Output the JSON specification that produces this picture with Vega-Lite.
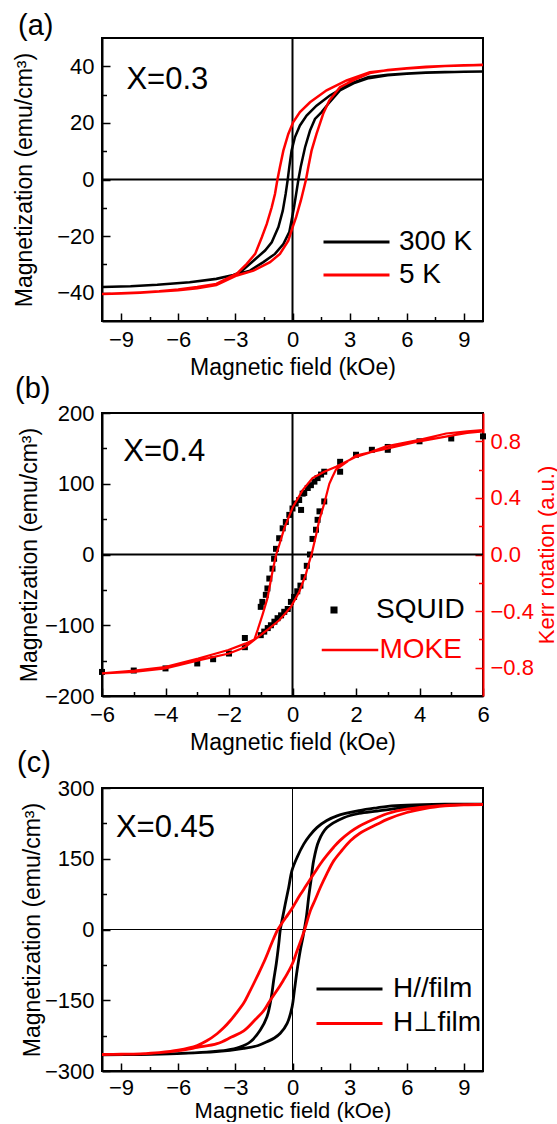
{
  "$schema": "https://vega.github.io/schema/vega-lite/v6.json",
  "background": "white",
  "padding": {"left": 12, "top": 11, "right": 0, "bottom": 0},
  "spacing": 92,
  "bounds": "flush",
  "datasets": {
    "a": [
      {"T":"300 K","H":10,"M":38.2},{"T":"300 K","H":9,"M":38.1},{"T":"300 K","H":8,"M":38.0},{"T":"300 K","H":7,"M":37.8},{"T":"300 K","H":6,"M":37.5},{"T":"300 K","H":5,"M":37.0},{"T":"300 K","H":4,"M":36.2},{"T":"300 K","H":3,"M":33.8},{"T":"300 K","H":2.5,"M":31.8},{"T":"300 K","H":1.96,"M":29.7},{"T":"300 K","H":1.26,"M":26.1},{"T":"300 K","H":0.74,"M":22.6},{"T":"300 K","H":0.39,"M":19.1},{"T":"300 K","H":0.13,"M":15.0},{"T":"300 K","H":-0.05,"M":10.2},{"T":"300 K","H":-0.17,"M":4.4},{"T":"300 K","H":-0.25,"M":0},{"T":"300 K","H":-0.36,"M":-5.1},{"T":"300 K","H":-0.51,"M":-11.0},{"T":"300 K","H":-0.74,"M":-16.8},{"T":"300 K","H":-1.09,"M":-22.2},{"T":"300 K","H":-1.44,"M":-25.1},{"T":"300 K","H":-2.05,"M":-28.7},{"T":"300 K","H":-2.75,"M":-32.8},{"T":"300 K","H":-3.1,"M":-33.7},{"T":"300 K","H":-4,"M":-35.1},{"T":"300 K","H":-5.4,"M":-36.3},{"T":"300 K","H":-7.1,"M":-37.2},{"T":"300 K","H":-8.5,"M":-37.7},{"T":"300 K","H":-10,"M":-38.0},
      {"T":"300 K","H":-8.5,"M":-37.7},{"T":"300 K","H":-7.1,"M":-37.2},{"T":"300 K","H":-5.4,"M":-36.3},{"T":"300 K","H":-4,"M":-35.2},{"T":"300 K","H":-3,"M":-33.6},{"T":"300 K","H":-2.23,"M":-32.2},{"T":"300 K","H":-1.53,"M":-29.2},{"T":"300 K","H":-0.92,"M":-26.3},{"T":"300 K","H":-0.48,"M":-22.8},{"T":"300 K","H":-0.17,"M":-18.6},{"T":"300 K","H":-0.05,"M":-14.5},{"T":"300 K","H":0.08,"M":-9.8},{"T":"300 K","H":0.22,"M":-3.9},{"T":"300 K","H":0.31,"M":0},{"T":"300 K","H":0.43,"M":4.4},{"T":"300 K","H":0.66,"M":11.4},{"T":"300 K","H":0.92,"M":17.3},{"T":"300 K","H":1.18,"M":21.4},{"T":"300 K","H":1.53,"M":23.8},{"T":"300 K","H":1.87,"M":26.7},{"T":"300 K","H":2.49,"M":31.5},{"T":"300 K","H":3.2,"M":34.0},{"T":"300 K","H":4,"M":35.8},{"T":"300 K","H":5,"M":36.8},{"T":"300 K","H":6,"M":37.4},{"T":"300 K","H":7,"M":37.7},{"T":"300 K","H":8,"M":37.9},{"T":"300 K","H":9,"M":38.1},{"T":"300 K","H":10,"M":38.2},
      {"T":"5 K","H":10,"M":40.5},{"T":"5 K","H":9,"M":40.4},{"T":"5 K","H":8,"M":40.1},{"T":"5 K","H":7,"M":39.7},{"T":"5 K","H":6,"M":39.2},{"T":"5 K","H":5,"M":38.6},{"T":"5 K","H":4.06,"M":37.9},{"T":"5 K","H":2.84,"M":35.0},{"T":"5 K","H":1.79,"M":31.5},{"T":"5 K","H":0.92,"M":27.3},{"T":"5 K","H":0.39,"M":23.8},{"T":"5 K","H":0.04,"M":20.3},{"T":"5 K","H":-0.22,"M":16.1},{"T":"5 K","H":-0.48,"M":10.2},{"T":"5 K","H":-0.66,"M":4.4},{"T":"5 K","H":-0.79,"M":0},{"T":"5 K","H":-0.92,"M":-5.1},{"T":"5 K","H":-1.09,"M":-9.8},{"T":"5 K","H":-1.35,"M":-15.7},{"T":"5 K","H":-1.61,"M":-20.4},{"T":"5 K","H":-1.96,"M":-26.3},{"T":"5 K","H":-2.4,"M":-29.8},{"T":"5 K","H":-2.92,"M":-33.3},{"T":"5 K","H":-4,"M":-36.9},{"T":"5 K","H":-5,"M":-38.0},{"T":"5 K","H":-6,"M":-38.9},{"T":"5 K","H":-7,"M":-39.5},{"T":"5 K","H":-8,"M":-39.9},{"T":"5 K","H":-9,"M":-40.2},{"T":"5 K","H":-10,"M":-40.5},
      {"T":"5 K","H":-9,"M":-40.3},{"T":"5 K","H":-8,"M":-40.0},{"T":"5 K","H":-7,"M":-39.6},{"T":"5 K","H":-6,"M":-39.1},{"T":"5 K","H":-5,"M":-38.4},{"T":"5 K","H":-4,"M":-37.3},{"T":"5 K","H":-2.92,"M":-33.9},{"T":"5 K","H":-2.05,"M":-32.2},{"T":"5 K","H":-1.18,"M":-29.2},{"T":"5 K","H":-0.66,"M":-26.3},{"T":"5 K","H":-0.22,"M":-21.6},{"T":"5 K","H":-0.05,"M":-18.0},{"T":"5 K","H":0.19,"M":-13.3},{"T":"5 K","H":0.44,"M":-7.4},{"T":"5 K","H":0.71,"M":0},{"T":"5 K","H":0.83,"M":4.4},{"T":"5 K","H":1.0,"M":10.2},{"T":"5 K","H":1.26,"M":16.1},{"T":"5 K","H":1.61,"M":23.2},{"T":"5 K","H":1.93,"M":27.9},{"T":"5 K","H":2.49,"M":32.6},{"T":"5 K","H":3.36,"M":35.6},{"T":"5 K","H":4.06,"M":37.6},{"T":"5 K","H":5,"M":38.7},{"T":"5 K","H":6,"M":39.3},{"T":"5 K","H":7,"M":39.8},{"T":"5 K","H":8,"M":40.1},{"T":"5 K","H":9,"M":40.3},{"T":"5 K","H":10,"M":40.5}
    ],
    "bs": [
      {"H":-6,"M":-166},{"H":-5,"M":-164},{"H":-4,"M":-161},{"H":-3,"M":-154},{"H":-2.5,"M":-148},{"H":-2,"M":-140},{"H":-1.5,"M":-131},{"H":-1.5,"M":-118},{"H":-1.0,"M":-74},{"H":-1.0,"M":-114},{"H":-0.95,"M":-67},{"H":-0.89,"M":-109},{"H":-0.84,"M":-57},{"H":-0.79,"M":-48},{"H":-0.78,"M":-104},{"H":-0.73,"M":-34},{"H":-0.68,"M":-100},{"H":-0.63,"M":-20},{"H":-0.58,"M":-6},{"H":-0.57,"M":-95},{"H":-0.52,"M":8},{"H":-0.47,"M":-90},{"H":-0.42,"M":23},{"H":-0.36,"M":-86},{"H":-0.31,"M":37},{"H":-0.26,"M":-81},{"H":-0.21,"M":46},{"H":-0.15,"M":-77},{"H":-0.1,"M":56},{"H":-0.05,"M":-67},{"H":0.0,"M":65},{"H":0.05,"M":-60},{"H":0.1,"M":72},{"H":0.15,"M":-52},{"H":0.21,"M":77},{"H":0.25,"M":-44},{"H":0.27,"M":63},{"H":0.32,"M":86},{"H":0.35,"M":-32},{"H":0.37,"M":87},{"H":0.45,"M":-16},{"H":0.48,"M":94},{"H":0.55,"M":0},{"H":0.58,"M":98},{"H":0.63,"M":22},{"H":0.69,"M":103},{"H":0.74,"M":35},{"H":0.79,"M":49},{"H":0.79,"M":108},{"H":0.85,"M":61},{"H":0.9,"M":113},{"H":1.0,"M":75},{"H":1.0,"M":117},{"H":1.5,"M":131},{"H":1.5,"M":117},{"H":2,"M":141},{"H":2.5,"M":148},{"H":3,"M":148},{"H":3,"M":152},{"H":4,"M":160},{"H":5,"M":164},{"H":6,"M":167}
    ],
    "bm": [
      {"H":6,"K":0.88},{"H":5.5,"K":0.87},{"H":4.84,"K":0.855},{"H":4,"K":0.81},{"H":2.95,"K":0.765},{"H":2.42,"K":0.72},{"H":2,"K":0.69},{"H":1.37,"K":0.62},{"H":1.0,"K":0.585},{"H":0.63,"K":0.54},{"H":0.32,"K":0.455},{"H":0,"K":0.33},{"H":-0.26,"K":0.185},{"H":-0.42,"K":0.065},{"H":-0.52,"K":-0.005},{"H":-0.63,"K":-0.12},{"H":-0.79,"K":-0.31},{"H":-0.95,"K":-0.43},{"H":-1.1,"K":-0.535},{"H":-1.2,"K":-0.6},{"H":-1.49,"K":-0.63},{"H":-2.02,"K":-0.675},{"H":-2.97,"K":-0.735},{"H":-4.02,"K":-0.795},{"H":-4.97,"K":-0.82},{"H":-6,"K":-0.84},
      {"H":-5,"K":-0.83},{"H":-4,"K":-0.805},{"H":-3,"K":-0.75},{"H":-2,"K":-0.7},{"H":-1.5,"K":-0.655},{"H":-1.1,"K":-0.585},{"H":-0.75,"K":-0.525},{"H":-0.42,"K":-0.465},{"H":-0.2,"K":-0.41},{"H":-0.05,"K":-0.37},{"H":0.21,"K":-0.265},{"H":0.42,"K":-0.14},{"H":0.53,"K":-0.05},{"H":0.6,"K":0},{"H":0.74,"K":0.135},{"H":0.84,"K":0.24},{"H":1.0,"K":0.36},{"H":1.16,"K":0.5},{"H":1.26,"K":0.55},{"H":1.37,"K":0.6},{"H":2,"K":0.7},{"H":3,"K":0.75},{"H":4,"K":0.8},{"H":5,"K":0.84},{"H":5.5,"K":0.86},{"H":6,"K":0.87}
    ],
    "c": [
      {"T":"H//film","H":10,"M":266},{"T":"H//film","H":8,"M":265.5},{"T":"H//film","H":6,"M":263.5},{"T":"H//film","H":5,"M":261},{"T":"H//film","H":4.44,"M":258},{"T":"H//film","H":3.5,"M":252},{"T":"H//film","H":2.34,"M":241},{"T":"H//film","H":1.8,"M":231},{"T":"H//film","H":1.28,"M":216},{"T":"H//film","H":0.9,"M":199},{"T":"H//film","H":0.59,"M":181},{"T":"H//film","H":0.24,"M":153},{"T":"H//film","H":-0.03,"M":125},{"T":"H//film","H":-0.2,"M":89},{"T":"H//film","H":-0.38,"M":54},{"T":"H//film","H":-0.55,"M":19},{"T":"H//film","H":-0.64,"M":0},{"T":"H//film","H":-0.72,"M":-30},{"T":"H//film","H":-0.85,"M":-72},{"T":"H//film","H":-0.99,"M":-108},{"T":"H//film","H":-1.11,"M":-143},{"T":"H//film","H":-1.34,"M":-185},{"T":"H//film","H":-1.69,"M":-213},{"T":"H//film","H":-2.21,"M":-238},{"T":"H//film","H":-2.8,"M":-250},{"T":"H//film","H":-3.44,"M":-256},{"T":"H//film","H":-4.5,"M":-260},{"T":"H//film","H":-6.06,"M":-263},{"T":"H//film","H":-8,"M":-265},{"T":"H//film","H":-10,"M":-266},
      {"T":"H//film","H":-8,"M":-265},{"T":"H//film","H":-6.06,"M":-263},{"T":"H//film","H":-4,"M":-259},{"T":"H//film","H":-2.56,"M":-252},{"T":"H//film","H":-1.8,"M":-246},{"T":"H//film","H":-1.34,"M":-238},{"T":"H//film","H":-0.95,"M":-230},{"T":"H//film","H":-0.64,"M":-220},{"T":"H//film","H":-0.28,"M":-199},{"T":"H//film","H":-0.02,"M":-164},{"T":"H//film","H":0.1,"M":-129},{"T":"H//film","H":0.24,"M":-87},{"T":"H//film","H":0.41,"M":-44},{"T":"H//film","H":0.55,"M":-16},{"T":"H//film","H":0.62,"M":0},{"T":"H//film","H":0.73,"M":27},{"T":"H//film","H":0.85,"M":69},{"T":"H//film","H":0.97,"M":104},{"T":"H//film","H":1.11,"M":146},{"T":"H//film","H":1.38,"M":188},{"T":"H//film","H":1.81,"M":216},{"T":"H//film","H":2.69,"M":237},{"T":"H//film","H":3.5,"M":246},{"T":"H//film","H":4.44,"M":251},{"T":"H//film","H":5.5,"M":257},{"T":"H//film","H":7,"M":262},{"T":"H//film","H":8.5,"M":264.5},{"T":"H//film","H":10,"M":266},
      {"T":"H⊥film","H":10,"M":265},{"T":"H⊥film","H":9,"M":264.5},{"T":"H⊥film","H":8,"M":263},{"T":"H⊥film","H":7,"M":260},{"T":"H⊥film","H":6,"M":255},{"T":"H⊥film","H":5,"M":246},{"T":"H⊥film","H":4.44,"M":237},{"T":"H⊥film","H":4,"M":229},{"T":"H⊥film","H":3.5,"M":219},{"T":"H⊥film","H":3.04,"M":207},{"T":"H⊥film","H":2.5,"M":189},{"T":"H⊥film","H":2.17,"M":175},{"T":"H⊥film","H":1.8,"M":157},{"T":"H⊥film","H":1.46,"M":139},{"T":"H⊥film","H":1.2,"M":123},{"T":"H⊥film","H":0.94,"M":107},{"T":"H⊥film","H":0.7,"M":92},{"T":"H⊥film","H":0.41,"M":74},{"T":"H⊥film","H":0.2,"M":60},{"T":"H⊥film","H":0,"M":46},{"T":"H⊥film","H":-0.25,"M":31},{"T":"H⊥film","H":-0.46,"M":19},{"T":"H⊥film","H":-0.77,"M":0},{"T":"H⊥film","H":-1.0,"M":-20},{"T":"H⊥film","H":-1.25,"M":-45},{"T":"H⊥film","H":-1.51,"M":-70},{"T":"H⊥film","H":-1.8,"M":-95},{"T":"H⊥film","H":-2.04,"M":-115},{"T":"H⊥film","H":-2.3,"M":-136},{"T":"H⊥film","H":-2.56,"M":-156},{"T":"H⊥film","H":-3,"M":-180},{"T":"H⊥film","H":-3.26,"M":-193},{"T":"H⊥film","H":-3.6,"M":-208},{"T":"H⊥film","H":-3.96,"M":-221},{"T":"H⊥film","H":-4.5,"M":-236},{"T":"H⊥film","H":-5,"M":-246},{"T":"H⊥film","H":-6,"M":-256},{"T":"H⊥film","H":-7,"M":-261},{"T":"H⊥film","H":-8,"M":-263.5},{"T":"H⊥film","H":-9,"M":-264.5},{"T":"H⊥film","H":-10,"M":-265},
      {"T":"H⊥film","H":-9,"M":-264.5},{"T":"H⊥film","H":-8,"M":-263.5},{"T":"H⊥film","H":-7,"M":-261},{"T":"H⊥film","H":-6,"M":-257},{"T":"H⊥film","H":-5,"M":-250},{"T":"H⊥film","H":-3.96,"M":-242},{"T":"H⊥film","H":-3.2,"M":-228},{"T":"H⊥film","H":-2.56,"M":-215},{"T":"H⊥film","H":-2,"M":-193},{"T":"H⊥film","H":-1.51,"M":-172},{"T":"H⊥film","H":-1.2,"M":-152},{"T":"H⊥film","H":-0.81,"M":-129},{"T":"H⊥film","H":-0.5,"M":-109},{"T":"H⊥film","H":-0.28,"M":-94},{"T":"H⊥film","H":0,"M":-72},{"T":"H⊥film","H":0.25,"M":-44},{"T":"H⊥film","H":0.45,"M":-22},{"T":"H⊥film","H":0.64,"M":0},{"T":"H⊥film","H":0.94,"M":40},{"T":"H⊥film","H":1.2,"M":64},{"T":"H⊥film","H":1.46,"M":89},{"T":"H⊥film","H":1.8,"M":118},{"T":"H⊥film","H":2.17,"M":146},{"T":"H⊥film","H":2.6,"M":168},{"T":"H⊥film","H":3.04,"M":188},{"T":"H⊥film","H":3.5,"M":203},{"T":"H⊥film","H":4.44,"M":223},{"T":"H⊥film","H":5,"M":234},{"T":"H⊥film","H":6,"M":248},{"T":"H⊥film","H":7,"M":257},{"T":"H⊥film","H":8,"M":262},{"T":"H⊥film","H":9,"M":264.5},{"T":"H⊥film","H":10,"M":265}
    ]
  },
  "vconcat": [
    {
      "width": 381, "height": 283,
      "title": {"text": "(a)", "anchor": "start", "frame": "group", "dx": -84, "offset": -33, "fontSize": 29, "fontWeight": "normal", "baseline": "bottom"},
      "layer": [
        {"data": {"values": [{"M": 0}]}, "mark": {"type": "rule", "color": "black", "strokeWidth": 2},
         "encoding": {"y": {"field": "M", "type": "quantitative", "scale": {"domain": [-50, 50], "nice": false, "zero": false},
           "axis": {"orient": "left", "values": [-40, -20, 0, 20, 40], "tickSize": -8, "labelPadding": 16, "title": "Magnetization (emu/cm³)", "titlePadding": 20}}}},
        {"data": {"values": [{"H": 0}]}, "mark": {"type": "rule", "color": "black", "strokeWidth": 2},
         "encoding": {"x": {"field": "H", "type": "quantitative", "scale": {"domain": [-10, 10], "nice": false, "zero": false},
           "axis": {"orient": "bottom", "values": [-9, -6, -3, 0, 3, 6, 9], "tickSize": -8, "labelPadding": 16, "title": "Magnetic field (kOe)", "titlePadding": 6}}}},
        {"data": {"name": "a"}, "mark": {"type": "line", "strokeWidth": 2.5},
         "encoding": {
           "x": {"field": "H", "type": "quantitative", "axis": {"orient": "bottom", "values": [-7.5, -4.5, -1.5, 1.5, 4.5, 7.5], "tickSize": -4.5, "labels": false, "domain": false, "title": null}},
           "y": {"field": "M", "type": "quantitative", "axis": {"orient": "left", "values": [-30, -10, 10, 30], "tickSize": -4.5, "labels": false, "domain": false, "title": null}},
           "color": {"field": "T", "type": "nominal", "scale": {"domain": ["300 K", "5 K"], "range": ["#000000", "#ff0000"]},
             "legend": {"orient": "none", "legendX": 220, "legendY": 190, "title": null, "symbolType": "stroke", "symbolSize": 4356, "symbolStrokeWidth": 3, "clipHeight": 28, "rowPadding": 5, "labelOffset": 8}},
           "order": {"value": null}}},
        {"data": {"values": [{}]}, "mark": {"type": "text", "text": "X=0.3", "align": "left", "baseline": "alphabetic", "fontSize": 31, "color": "black"},
         "encoding": {"x": {"datum": -8.72, "type": "quantitative", "axis": null}, "y": {"datum": 31.9, "type": "quantitative", "axis": null}}}
      ],
      "resolve": {"axis": {"x": "independent", "y": "independent"}}
    },
    {
      "width": 381, "height": 283,
      "title": {"text": "(b)", "anchor": "start", "frame": "group", "dx": -87, "offset": -31, "fontSize": 29, "fontWeight": "normal", "baseline": "bottom"},
      "layer": [
        {"data": {"values": [{"M": 0}]}, "mark": {"type": "rule", "color": "black", "strokeWidth": 2},
         "encoding": {"y": {"field": "M", "type": "quantitative", "scale": {"domain": [-200, 200], "nice": false, "zero": false},
           "axis": {"orient": "left", "values": [-200, -100, 0, 100, 200], "tickSize": -8, "labelPadding": 16, "title": "Magnetization (emu/cm³)", "titlePadding": 3}}}},
        {"data": {"values": [{"H": 0}]}, "mark": {"type": "rule", "color": "black", "strokeWidth": 2},
         "encoding": {"x": {"field": "H", "type": "quantitative", "scale": {"domain": [-6, 6], "nice": false, "zero": false},
           "axis": {"orient": "bottom", "values": [-6, -4, -2, 0, 2, 4, 6], "tickSize": -8, "labelPadding": 16, "title": "Magnetic field (kOe)", "titlePadding": 6}}}},
        {"data": {"name": "bs"}, "mark": {"type": "point", "filled": true, "color": "black", "size": 36, "opacity": 1},
         "encoding": {
           "x": {"field": "H", "type": "quantitative", "axis": {"orient": "bottom", "values": [-5, -3, -1, 1, 3, 5], "tickSize": -4.5, "labels": false, "domain": false, "title": null}},
           "y": {"field": "M", "type": "quantitative", "scale": {"domain": [-200, 200], "nice": false, "zero": false}, "axis": {"orient": "left", "values": [-150, -50, 50, 150], "tickSize": -4.5, "labels": false, "domain": false, "title": null}},
           "shape": {"datum": "SQUID", "scale": {"domain": ["SQUID"], "range": ["square"]},
             "legend": {"orient": "none", "legendX": 218, "legendY": 183, "title": null, "symbolSize": 50, "symbolFillColor": "black", "symbolStrokeColor": "black", "clipHeight": 28, "labelOffset": 28}}}},
        {"data": {"name": "bm"}, "mark": {"type": "line", "strokeWidth": 2.2},
         "encoding": {
           "x": {"field": "H", "type": "quantitative", "axis": null},
           "y": {"field": "K", "type": "quantitative", "scale": {"domain": [-1, 1], "nice": false, "zero": false},
             "axis": {"orient": "right", "values": [-0.8, -0.4, 0, 0.4, 0.8], "format": ".1f", "tickSize": -8, "labelPadding": 15, "labelColor": "#ff0000", "tickColor": "#ff0000", "domainColor": "#ff0000", "title": "Kerr rotation (a.u.)", "titleColor": "#ff0000", "titleFontSize": 22, "titleAngle": -90, "titleBaseline": "top", "titlePadding": 3}},
           "color": {"datum": "MOKE", "scale": {"domain": ["MOKE"], "range": ["#ff0000"]},
             "legend": {"orient": "none", "legendX": 218.5, "legendY": 223, "title": null, "symbolType": "stroke", "symbolSize": 3192, "symbolStrokeWidth": 2.5, "clipHeight": 28, "labelOffset": 0, "labelColor": "#ff0000"}},
           "order": {"value": null}}},
        {"data": {"values": [{"K": 0}]}, "mark": {"type": "rule", "opacity": 0},
         "encoding": {"y": {"field": "K", "type": "quantitative", "scale": {"domain": [-1, 1], "nice": false, "zero": false},
           "axis": {"orient": "right", "values": [-0.6, -0.2, 0.2, 0.6], "tickSize": -4.5, "labels": false, "domain": false, "title": null, "tickColor": "#ff0000"}}}},
        {"data": {"values": [{}]}, "mark": {"type": "text", "text": "X=0.4", "align": "left", "baseline": "alphabetic", "fontSize": 31, "color": "black"},
         "encoding": {"x": {"datum": -5.33, "type": "quantitative", "axis": null}, "y": {"datum": 132.5, "type": "quantitative", "scale": {"domain": [-200, 200], "nice": false, "zero": false}, "axis": null}}}
      ],
      "resolve": {"scale": {"y": "independent"}, "axis": {"x": "independent", "y": "independent"}}
    },
    {
      "width": 381, "height": 283,
      "title": {"text": "(c)", "anchor": "start", "frame": "group", "dx": -85, "offset": -30, "fontSize": 29, "fontWeight": "normal", "baseline": "bottom"},
      "layer": [
        {"data": {"values": [{"M": 0}]}, "mark": {"type": "rule", "color": "black", "strokeWidth": 1},
         "encoding": {"y": {"field": "M", "type": "quantitative", "scale": {"domain": [-300, 300], "nice": false, "zero": false},
           "axis": {"orient": "left", "values": [-300, -150, 0, 150, 300], "tickSize": -8, "labelPadding": 16, "title": "Magnetization (emu/cm³)", "titlePadding": 0}}}},
        {"data": {"values": [{"H": 0}]}, "mark": {"type": "rule", "color": "black", "strokeWidth": 1},
         "encoding": {"x": {"field": "H", "type": "quantitative", "scale": {"domain": [-10, 10], "nice": false, "zero": false},
           "axis": {"orient": "bottom", "values": [-9, -6, -3, 0, 3, 6, 9], "tickSize": -8, "labelPadding": 14, "title": "Magnetic field (kOe)", "titleFontSize": 22, "titlePadding": 2}}}},
        {"data": {"name": "c"}, "mark": {"type": "line", "strokeWidth": 2.8, "interpolate": "catmull-rom"},
         "encoding": {
           "x": {"field": "H", "type": "quantitative", "axis": {"orient": "bottom", "values": [-7.5, -4.5, -1.5, 1.5, 4.5, 7.5], "tickSize": -4.5, "labels": false, "domain": false, "title": null}},
           "y": {"field": "M", "type": "quantitative", "axis": {"orient": "left", "values": [-225, -75, 75, 225], "tickSize": -4.5, "labels": false, "domain": false, "title": null}},
           "color": {"field": "T", "type": "nominal", "scale": {"domain": ["H//film", "H⊥film"], "range": ["#000000", "#ff0000"]},
             "legend": {"orient": "none", "legendX": 213, "legendY": 187, "title": null, "symbolType": "stroke", "symbolSize": 4356, "symbolStrokeWidth": 3, "clipHeight": 28, "rowPadding": 6.4, "labelOffset": 9}},
           "order": {"value": null}}},
        {"data": {"values": [{}]}, "mark": {"type": "text", "text": "X=0.45", "align": "left", "baseline": "alphabetic", "fontSize": 31, "color": "black"},
         "encoding": {"x": {"datum": -9.27, "type": "quantitative", "axis": null}, "y": {"datum": 196.5, "type": "quantitative", "axis": null}}}
      ],
      "resolve": {"axis": {"x": "independent", "y": "independent"}}
    }
  ],
  "resolve": {"scale": {"color": "independent", "shape": "independent"}},
  "config": {
    "font": "Liberation Sans, Arial, DejaVu Sans, sans-serif",
    "view": {"stroke": "black", "strokeWidth": 2},
    "axis": {"grid": false, "labelFont": "Liberation Sans, Arial, DejaVu Sans, sans-serif", "titleFont": "Liberation Sans, Arial, DejaVu Sans, sans-serif", "labelFontSize": 22, "titleFontSize": 23, "titleFontWeight": "normal", "labelColor": "black", "titleColor": "black", "tickColor": "black", "domainColor": "black", "domainWidth": 2, "tickWidth": 1.5, "labelFlush": false, "labelOverlap": false},
    "legend": {"labelFont": "Liberation Sans, Arial, DejaVu Sans, sans-serif", "labelFontSize": 28, "labelColor": "black", "padding": 0},
    "text": {"font": "Liberation Sans, Arial, DejaVu Sans, sans-serif"},
    "title": {"font": "Liberation Sans, Arial, DejaVu Sans, sans-serif", "color": "black"}
  }
}
